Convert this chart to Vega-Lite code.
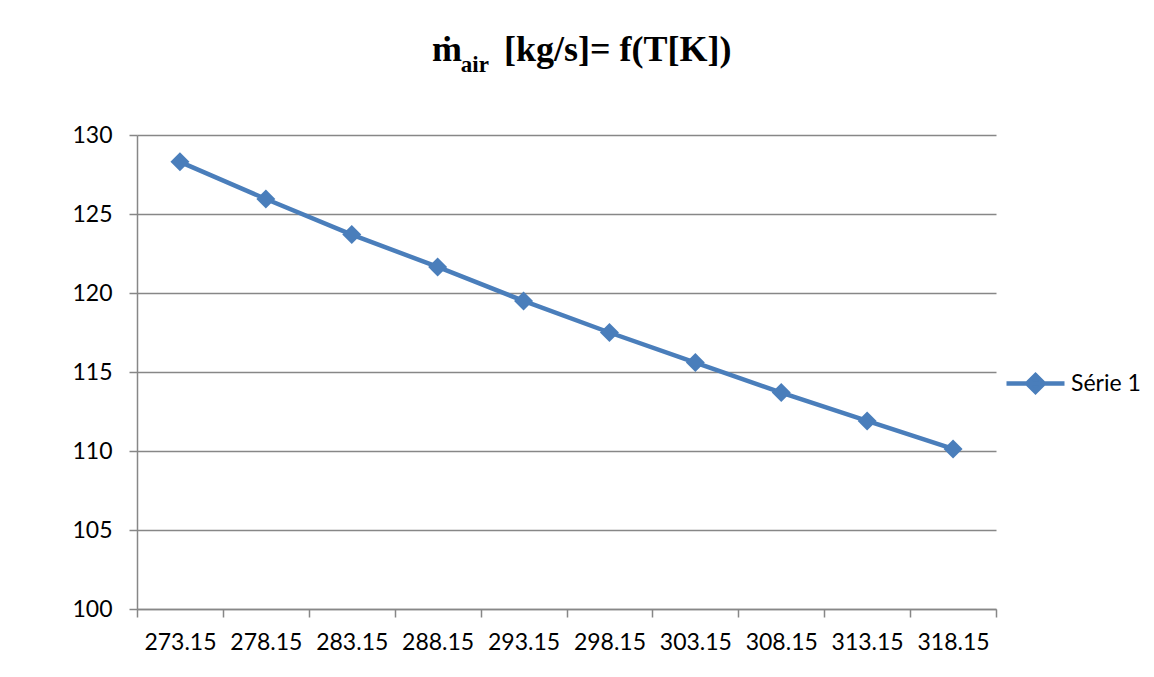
{
  "$schema": "https://vega.github.io/schema/vega-lite/v6.json",
  "width": 859,
  "height": 474,
  "autosize": "none",
  "padding": {"left": 137, "top": 135, "right": 158, "bottom": 68},
  "background": "white",
  "title": {
    "text": "ṁ\u2003\u2006[kg/s]= f(T[K])",
    "subtitle": "\u200B\u2003\u2005air",
    "anchor": "start",
    "frame": "group",
    "dx": 295,
    "offset": 46,
    "font": "Liberation Serif",
    "fontSize": 36,
    "fontWeight": "bold",
    "color": "black",
    "subtitleFont": "Liberation Serif",
    "subtitleFontSize": 23,
    "subtitleFontWeight": "bold",
    "subtitleColor": "black",
    "subtitlePadding": -15
  },
  "data": {
    "values": [
      {"T": "273.15", "m": 128.3, "serie": "Série 1"},
      {"T": "278.15", "m": 125.95, "serie": "Série 1"},
      {"T": "283.15", "m": 123.7, "serie": "Série 1"},
      {"T": "288.15", "m": 121.65, "serie": "Série 1"},
      {"T": "293.15", "m": 119.5, "serie": "Série 1"},
      {"T": "298.15", "m": 117.5, "serie": "Série 1"},
      {"T": "303.15", "m": 115.6, "serie": "Série 1"},
      {"T": "308.15", "m": 113.7, "serie": "Série 1"},
      {"T": "313.15", "m": 111.9, "serie": "Série 1"},
      {"T": "318.15", "m": 110.13, "serie": "Série 1"}
    ]
  },
  "encoding": {
    "x": {
      "field": "T",
      "type": "ordinal",
      "title": null,
      "scale": {"paddingInner": 0, "paddingOuter": 0},
      "axis": {
        "labelAngle": 0,
        "tickBand": "extent",
        "grid": false,
        "tickSize": 8,
        "labelPadding": 14
      }
    },
    "y": {
      "field": "m",
      "type": "quantitative",
      "title": null,
      "scale": {"domain": [100, 130], "nice": false, "zero": false},
      "axis": {
        "values": [100, 105, 110, 115, 120, 125, 130],
        "grid": true,
        "tickSize": 8,
        "labelPadding": 17
      }
    },
    "color": {
      "field": "serie",
      "type": "nominal",
      "scale": {"range": ["#4A7EBB"]},
      "legend": {
        "orient": "none",
        "legendX": 867,
        "legendY": 217,
        "title": null,
        "symbolType": "M-1,0L1,0M0,-0.29L0.29,0L0,0.29L-0.29,0Z",
        "symbolSize": 3364,
        "labelFont": "Lato",
        "labelFontSize": 23,
        "labelColor": "black",
        "labelOffset": 4,
        "padding": 0,
        "encode": {
          "symbols": {
            "update": {
              "fill": {"value": "#4A7EBB"},
              "stroke": {"value": "#4A7EBB"},
              "strokeWidth": {"value": 4.5},
              "opacity": {"value": 1}
            }
          }
        }
      }
    }
  },
  "layer": [
    {"mark": {"type": "line", "strokeWidth": 4.5}},
    {"mark": {"type": "point", "shape": "diamond", "filled": true, "size": 360, "opacity": 1}}
  ],
  "config": {
    "view": {"stroke": null},
    "axis": {
      "labelFont": "Lato",
      "labelFontSize": 23,
      "labelColor": "black",
      "domainColor": "#878787",
      "domainWidth": 1.5,
      "tickColor": "#878787",
      "tickWidth": 1.5,
      "gridColor": "#878787",
      "gridWidth": 1.5
    }
  }
}
